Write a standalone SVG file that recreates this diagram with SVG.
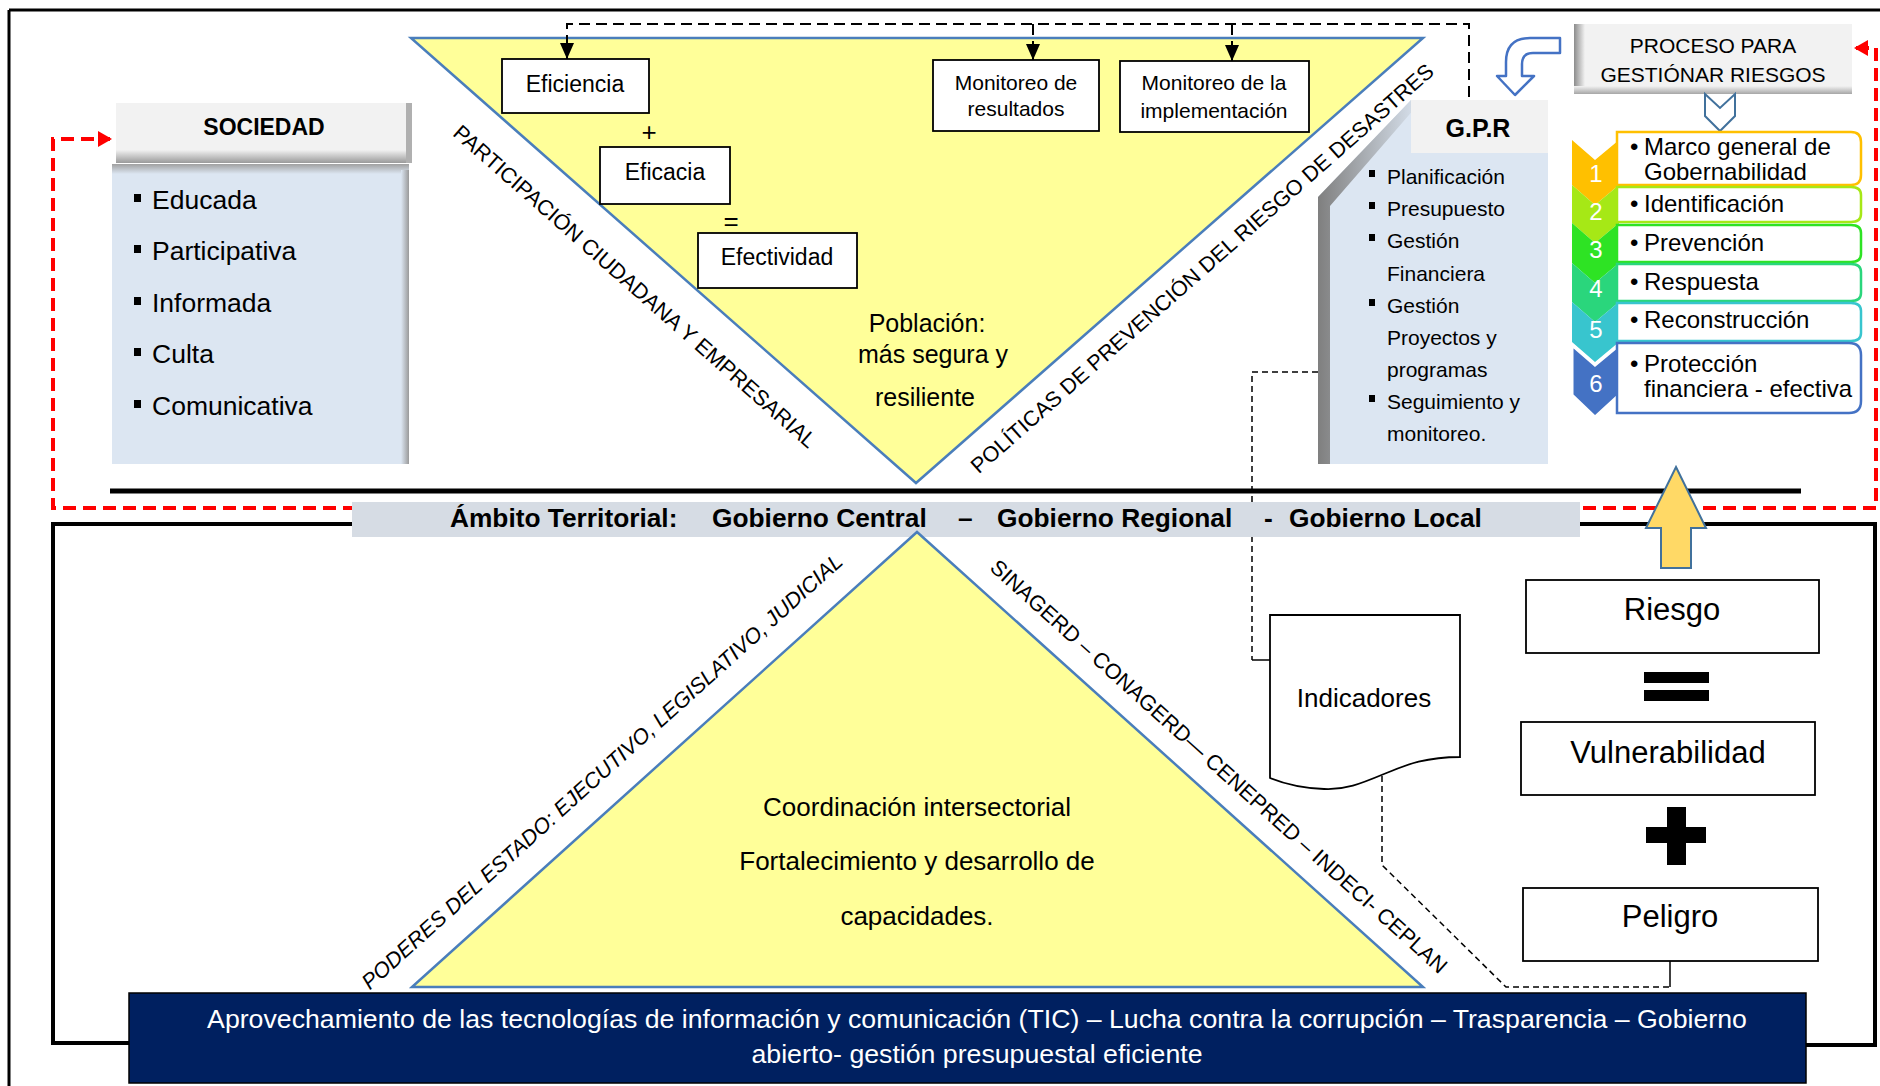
<svg xmlns="http://www.w3.org/2000/svg" width="1880" height="1086" viewBox="0 0 1880 1086">
<style>
text{font-family:"Liberation Sans",Arial,sans-serif;fill:#000}
.box{fill:#fff;stroke:#000;stroke-width:1.8}
.tri{fill:#FFFF99;stroke:#4A7EBB;stroke-width:2.5}
.diag{font-size:21.6px}
.gpr{font-size:21px}
.soc{font-size:26.5px}
.list{font-size:24px}
.num{font-size:24px;fill:#fff;text-anchor:middle}
.mid{text-anchor:middle}
.dash{fill:none;stroke:#000;stroke-width:2;stroke-dasharray:11 6}
.thin{fill:none;stroke:#000;stroke-width:1.5;stroke-dasharray:6 4}
.red{fill:none;stroke:#FF0000;stroke-width:4;stroke-dasharray:13 7}
.frame{fill:none;stroke:#000;stroke-width:4}
</style>
<defs>
<marker id="ab" markerUnits="userSpaceOnUse" markerWidth="16" markerHeight="14" refX="16" refY="7" orient="auto" viewBox="0 0 16 14"><path d="M0,0 L16,7 L0,14 Z" fill="#000"/></marker>
<marker id="ar" markerUnits="userSpaceOnUse" markerWidth="14" markerHeight="16" refX="12" refY="8" orient="auto-start-reverse" viewBox="0 0 14 16"><path d="M0,0 L14,8 L0,16 Z" fill="#FF0000"/></marker>
<linearGradient id="hdr" x1="0" y1="0" x2="0" y2="1"><stop offset="0" stop-color="#F2F2F2"/><stop offset="0.78" stop-color="#F2F2F2"/><stop offset="1" stop-color="#9A9A9A"/></linearGradient>
<linearGradient id="topsh" x1="0" y1="0" x2="0" y2="1"><stop offset="0" stop-color="#A0A0A0"/><stop offset="1" stop-color="#DCE6F2"/></linearGradient>
<linearGradient id="rsh" x1="0" y1="0" x2="1" y2="0"><stop offset="0" stop-color="#DCE6F2"/><stop offset="1" stop-color="#9A9A9A"/></linearGradient>
<linearGradient id="lsh" x1="0" y1="0" x2="1" y2="0"><stop offset="0" stop-color="#7F7F7F"/><stop offset="1" stop-color="#DCE6F2"/></linearGradient>
<linearGradient id="plsh" x1="0" y1="0" x2="1" y2="0"><stop offset="0" stop-color="#8C8C8C"/><stop offset="1" stop-color="#F2F2F2"/></linearGradient>
<linearGradient id="pbsh" x1="0" y1="0" x2="0" y2="1"><stop offset="0" stop-color="#F2F2F2"/><stop offset="1" stop-color="#A6A6A6"/></linearGradient>
</defs>
<rect width="1880" height="1086" fill="#fff"/>
<!-- outer frame -->
<path d="M9 10 H1880 M9 10 V1086" fill="none" stroke="#000" stroke-width="3"/>

<g id="triangulo-superior">
<polygon class="tri" points="411,38 1423,38 916,483"/>
<text class="mid" font-size="25" x="927" y="332">Población:</text>
<text class="mid" font-size="25" x="933" y="363">más segura y</text>
<text class="mid" font-size="25" x="925" y="406">resiliente</text>
</g>

<g id="connectors">
<path class="red" d="M1856 48 H1876 V508 H53 V139 H110" marker-start="url(#ar)" marker-end="url(#ar)"/>
<path class="dash" d="M1469 97 V24 H567 V59" marker-end="url(#ab)"/>
<path class="dash" d="M1033 24 V60" marker-end="url(#ab)"/>
<path class="dash" d="M1232 24 V61" marker-end="url(#ab)"/>
<path class="thin" d="M1318 372 H1252 V660"/>
<path d="M1252 660 H1270" fill="none" stroke="#000" stroke-width="1.5"/>
<path class="thin" d="M1382 776 V865 L1506 987 H1670"/>
<path d="M1670 987 V961" fill="none" stroke="#000" stroke-width="1.5"/>
<path d="M110 491 H1801" stroke="#000" stroke-width="5"/>
<path class="frame" d="M353 524 H53 V1043 H129"/>
<path class="frame" d="M1580 524 H1875 V1045 H1806"/>
</g>

<g id="eficiencia"><rect class="box" x="502" y="59" width="147" height="54"/><text class="mid" font-size="23" x="575" y="92">Eficiencia</text></g>
<text id="mas" class="mid" font-size="26" x="649" y="141">+</text>
<g id="eficacia"><rect class="box" x="600" y="147" width="130" height="57"/><text class="mid" font-size="23" x="665" y="180">Eficacia</text></g>
<text id="igual" class="mid" font-size="26" x="731" y="230">=</text>
<g id="efectividad"><rect class="box" x="698" y="233" width="159" height="55"/><text class="mid" font-size="23" x="777" y="265">Efectividad</text></g>
<g id="monitoreo-resultados"><rect class="box" x="933" y="60" width="166" height="71"/><text class="mid" font-size="21" x="1016" y="90">Monitoreo de</text><text class="mid" font-size="21" x="1016" y="116">resultados</text></g>
<g id="monitoreo-implementacion"><rect class="box" x="1120" y="61" width="189" height="71"/><text class="mid" font-size="21" x="1214" y="90">Monitoreo de la</text><text class="mid" font-size="21" x="1214" y="118">implementación</text></g>

<g id="texto-participacion"><text class="diag mid" transform="translate(630,292) rotate(41.4)">PARTICIPACIÓN CIUDADANA Y EMPRESARIAL</text></g>
<g id="texto-politicas"><text class="diag mid" transform="translate(1207,274) rotate(-41.3)">POLÍTICAS DE PREVENCIÓN DEL RIESGO DE DESASTRES</text></g>

<g id="sociedad">
<rect x="116" y="103" width="296" height="60" fill="url(#hdr)"/>
<rect x="406" y="103" width="6" height="60" fill="#B0B0B0"/>
<text class="mid" font-size="23" font-weight="bold" x="264" y="135">SOCIEDAD</text>
<rect x="112" y="164" width="297" height="300" fill="#DCE6F2"/>
<rect x="112" y="164" width="297" height="10" fill="url(#topsh)"/>
<rect x="401" y="170" width="8" height="294" fill="url(#rsh)"/>
<rect x="134" y="194" width="7" height="8"/><text class="soc" x="152" y="209">Educada</text>
<rect x="134" y="245" width="7" height="8"/><text class="soc" x="152" y="260">Participativa</text>
<rect x="134" y="297" width="7" height="8"/><text class="soc" x="152" y="312">Informada</text>
<rect x="134" y="348" width="7" height="8"/><text class="soc" x="152" y="363">Culta</text>
<rect x="134" y="400" width="7" height="8"/><text class="soc" x="152" y="415">Comunicativa</text>
</g>

<g id="gpr">
<path d="M1411 100 H1548 V464 H1318 V197 Z" fill="#DCE6F2"/>
<polygon points="1318,197 1411,100 1422,100 1330,206 1330,464 1318,464" fill="url(#lsh)"/>
<rect x="1411" y="100" width="137" height="53" fill="#F2F2F2"/>
<text class="mid" font-size="25" font-weight="bold" x="1478" y="137">G.P.R</text>
<rect x="1369" y="170" width="6" height="7"/><text class="gpr" x="1387" y="184">Planificación</text>
<rect x="1369" y="202" width="6" height="7"/><text class="gpr" x="1387" y="216">Presupuesto</text>
<rect x="1369" y="234" width="6" height="7"/><text class="gpr" x="1387" y="248">Gestión</text>
<text class="gpr" x="1387" y="281">Financiera</text>
<rect x="1369" y="299" width="6" height="7"/><text class="gpr" x="1387" y="313">Gestión</text>
<text class="gpr" x="1387" y="345">Proyectos y</text>
<text class="gpr" x="1387" y="377">programas</text>
<rect x="1369" y="395" width="6" height="7"/><text class="gpr" x="1387" y="409">Seguimiento y</text>
<text class="gpr" x="1387" y="441">monitoreo.</text>
</g>

<g id="proceso">
<rect x="1574" y="24" width="278" height="70" fill="#F2F2F2"/>
<rect x="1574" y="24" width="11" height="70" fill="url(#plsh)"/>
<rect x="1574" y="86" width="278" height="8" fill="url(#pbsh)"/>
<text class="mid" font-size="21" x="1713" y="53">PROCESO PARA</text>
<text class="mid" font-size="21" x="1713" y="82">GESTIÓNAR RIESGOS</text>
</g>
<g id="flecha-curva"><path d="M1560 38 L1530 38 Q1506 38 1506 62 L1506 76 L1497 76 L1515 95 L1534 76 L1522 76 L1522 64 Q1522 53 1533 53 L1560 53 Z" fill="#fff" stroke="#4472C4" stroke-width="2.5" stroke-linejoin="round"/></g>
<g id="flecha-abajo"><polygon points="1705,94 1720,108 1735,94 1735,116 1720,131 1705,116" fill="#fff" stroke="#41719C" stroke-width="2"/></g>

<g id="lista-proceso">
<polygon points="1572,140 1595,160 1619,140 1619,185 1595,205 1572,185" fill="#FFC000"/>
<polygon points="1572,185 1595,205 1619,185 1619,223 1595,243 1572,223" fill="#A6E816"/>
<polygon points="1572,223 1595,243 1619,223 1619,263 1595,283 1572,263" fill="#2EE324"/>
<polygon points="1572,263 1595,283 1619,263 1619,302 1595,322 1572,302" fill="#2AD67C"/>
<polygon points="1572,302 1595,322 1619,302 1619,342 1595,362 1572,342" fill="#38C5CE"/>
<polygon points="1572,345 1595,365 1619,345 1619,395 1595,417 1572,395" fill="#4472C4" stroke="#fff" stroke-width="3"/>
<text class="num" x="1596" y="182">1</text>
<text class="num" x="1596" y="220">2</text>
<text class="num" x="1596" y="258">3</text>
<text class="num" x="1596" y="297">4</text>
<text class="num" x="1596" y="338">5</text>
<text class="num" x="1596" y="392">6</text>
<path d="M1617 132 H1851 Q1861 132 1861 142 V175 Q1861 185 1851 185 H1617 Z" fill="#fff" stroke="#FFC000" stroke-width="2.5"/>
<path d="M1617 187 H1851 Q1861 187 1861 195 V214 Q1861 222 1851 222 H1617 Z" fill="#fff" stroke="#A6E816" stroke-width="2.5"/>
<path d="M1617 225 H1851 Q1861 225 1861 233 V254 Q1861 262 1851 262 H1617 Z" fill="#fff" stroke="#2EE324" stroke-width="2.5"/>
<path d="M1617 264 H1851 Q1861 264 1861 272 V293 Q1861 301 1851 301 H1617 Z" fill="#fff" stroke="#2AD67C" stroke-width="2.5"/>
<path d="M1617 303 H1851 Q1861 303 1861 311 V333 Q1861 341 1851 341 H1617 Z" fill="#fff" stroke="#38C5CE" stroke-width="2.5"/>
<path d="M1617 343 H1849 Q1861 343 1861 355 V401 Q1861 413 1849 413 H1617 Z" fill="#fff" stroke="#4472C4" stroke-width="2.5"/>
<text class="list" x="1630" y="155">•</text><text class="list" x="1644" y="155">Marco general de</text>
<text class="list" x="1644" y="180">Gobernabilidad</text>
<text class="list" x="1630" y="212">•</text><text class="list" x="1644" y="212">Identificación</text>
<text class="list" x="1630" y="251">•</text><text class="list" x="1644" y="251">Prevención</text>
<text class="list" x="1630" y="290">•</text><text class="list" x="1644" y="290">Respuesta</text>
<text class="list" x="1630" y="328">•</text><text class="list" x="1644" y="328">Reconstrucción</text>
<text class="list" x="1630" y="372">•</text><text class="list" x="1644" y="372">Protección</text>
<text class="list" x="1644" y="397">financiera - efectiva</text>
</g>

<g id="ambito">
<rect x="352" y="502" width="1228" height="35" fill="#D6DCE4"/>
<text font-size="26.3" font-weight="bold" y="527"><tspan x="450">Ámbito Territorial:</tspan><tspan x="712">Gobierno Central</tspan><tspan x="958">–</tspan><tspan x="997">Gobierno Regional</tspan><tspan x="1264">-</tspan><tspan x="1289">Gobierno Local</tspan></text>
</g>

<g id="triangulo-inferior">
<polygon class="tri" points="917,532 1423,987 412,987"/>
<text class="mid" font-size="26" x="917" y="816">Coordinación intersectorial</text>
<text class="mid" font-size="26" x="917" y="870">Fortalecimiento y desarrollo de</text>
<text class="mid" font-size="26" x="917" y="925">capacidades.</text>
</g>
<g id="texto-poderes"><text class="diag mid" font-style="italic" transform="translate(607,777) rotate(-42)">PODERES DEL ESTADO: EJECUTIVO, LEGISLATIVO, JUDICIAL</text></g>
<g id="texto-sinagerd"><text class="diag mid" transform="translate(1214,772) rotate(42)">SINAGERD – CONAGERD— CENEPRED – INDECI- CEPLAN</text></g>

<g id="indicadores">
<path d="M1270 615 H1460 V757 C1420 757 1400 768 1384 774 C1360 784 1345 790 1324 789 C1300 788 1285 784 1270 778 Z" fill="#fff" stroke="#000" stroke-width="1.8"/>
<text class="mid" font-size="26" x="1364" y="707">Indicadores</text>
</g>

<g id="flecha-amarilla"><polygon points="1676,467 1706,528 1691,528 1691,568 1661,568 1661,528 1646,528" fill="#FFD966" stroke="#41719C" stroke-width="2"/></g>
<g id="riesgo"><rect class="box" x="1526" y="580" width="293" height="73"/><text class="mid" font-size="31" x="1672" y="620">Riesgo</text></g>
<g id="signo-igual"><rect x="1644" y="672" width="65" height="11"/><rect x="1644" y="690" width="65" height="11"/></g>
<g id="vulnerabilidad"><rect class="box" x="1521" y="722" width="294" height="73"/><text class="mid" font-size="31" x="1668" y="763">Vulnerabilidad</text></g>
<g id="signo-mas"><rect x="1667" y="807" width="19" height="58"/><rect x="1646" y="827" width="60" height="16"/></g>
<g id="peligro"><rect class="box" x="1523" y="888" width="295" height="73"/><text class="mid" font-size="31" x="1670" y="927">Peligro</text></g>

<g id="barra-inferior">
<rect x="129" y="993" width="1677" height="90" fill="#002060" stroke="#000" stroke-width="1.5"/>
<text class="mid" font-size="26.7" x="977" y="1028" style="fill:#fff">Aprovechamiento de las tecnologías de información y comunicación (TIC) – Lucha contra la corrupción – Trasparencia – Gobierno</text>
<text class="mid" font-size="26.7" x="977" y="1063" style="fill:#fff">abierto- gestión presupuestal eficiente</text>
</g>
</svg>
